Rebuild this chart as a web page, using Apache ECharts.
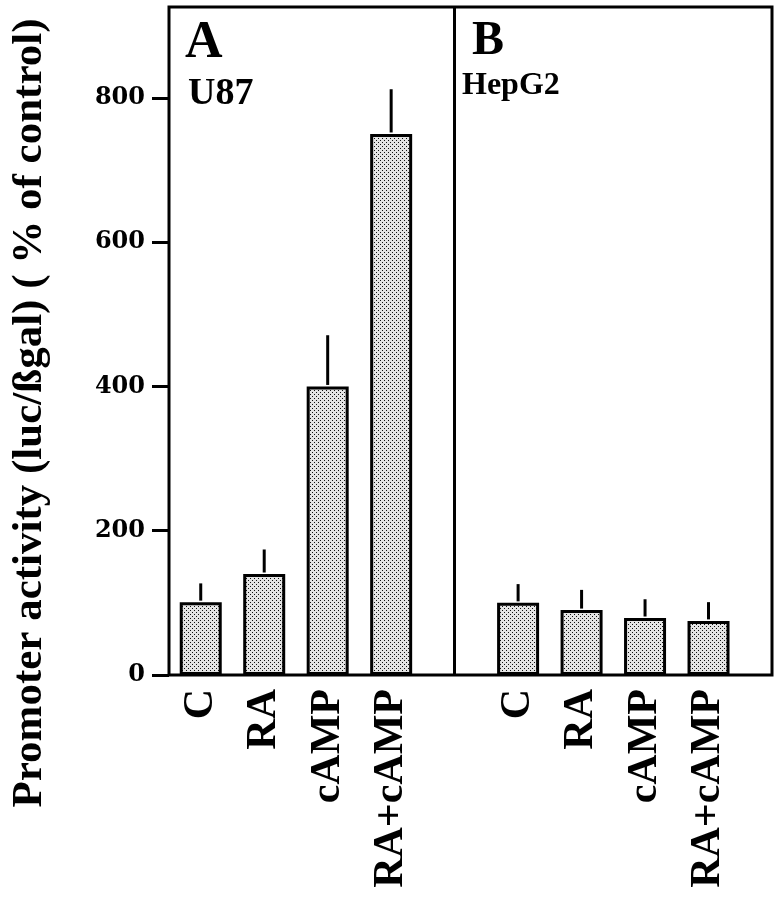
<!DOCTYPE html>
<html>
<head>
<meta charset="utf-8">
<script src="https://cdn.jsdelivr.net/npm/echarts@6/dist/echarts.min.js"></script>
<style>
html,body{margin:0;padding:0;background:#fff;}
#chart{width:780px;height:900px;}
</style>
</head>
<body>
<div id="chart"></div>
<script>
// ---- data ----
const categories = ['C', 'RA', 'cAMP', 'RA+cAMP'];
const panelLetters = ['A', 'B'];
const cellLines = ['U87', 'HepG2'];
const valuesA = [101, 140, 400, 750];
const errTopA = [127, 174, 471, 812];
const valuesB = [100, 90, 79, 75];
const errTopB = [126, 118, 105, 101];
const yTicks = [0, 200, 400, 600, 800];
const yTitle = 'Promoter activity (luc/ßgal) ( % of control)';

// ---- slots on a continuous x axis: panel A slots 0..3, gap, panel B slots 5..8 ----
const slotsA = categories.map((c, i) => i + 0.5);
const slotsB = categories.map((c, i) => i + 5.5);
const divider = 4.5;
const allSlots = slotsA.concat(slotsB);
const allNames = categories.concat(categories);

const barData = slotsA.map((x, i) => [x, valuesA[i]]).concat(slotsB.map((x, i) => [x, valuesB[i]]));
const errData = slotsA.map((x, i) => [x, valuesA[i], errTopA[i]]).concat(slotsB.map((x, i) => [x, valuesB[i], errTopB[i]]));

// stipple pattern
const tile = document.createElement('canvas');
tile.width = 4; tile.height = 4;
const tctx = tile.getContext('2d');
tctx.fillStyle = '#e4e4e4'; tctx.fillRect(0, 0, 4, 4);
tctx.fillStyle = '#111'; tctx.fillRect(0, 0, 1, 1); tctx.fillRect(2, 2, 1, 1);

const serif = '"Liberation Serif", "Times New Roman", serif';
const chart = echarts.init(document.getElementById('chart'), null, {renderer: 'canvas'});

chart.setOption({
  animation: false,
  backgroundColor: '#fff',
  grid: {left: 169, right: 8, top: 7, bottom: 225, show: true, borderColor: '#000', borderWidth: 3, backgroundColor: 'transparent'},
  xAxis: {
    type: 'value', min: 0, max: 9.5, interval: 0.5,
    axisLine: {show: false}, axisTick: {show: false}, splitLine: {show: false},
    axisLabel: {
      customValues: allSlots,
      rotate: 90, margin: 14, color: '#000',
      fontFamily: serif, fontWeight: 'bold', fontSize: 42,
      formatter: function (v) {
        for (let i = 0; i < allSlots.length; i++) if (Math.abs(allSlots[i] - v) < 1e-6) return allNames[i];
        return '';
      }
    }
  },
  yAxis: {
    type: 'value', min: 0, max: 926,
    axisLine: {show: false}, splitLine: {show: false},
    axisTick: {show: true, customValues: yTicks, length: 17, lineStyle: {color: '#000', width: 3}},
    axisLabel: {customValues: yTicks, margin: 24, color: '#000', fontFamily: '"DejaVu Serif", serif', fontWeight: 'bold', fontSize: 24}
  },
  graphic: [
    {type: 'text', x: 30, y: 413, rotation: Math.PI / 2, style: {text: yTitle, font: 'bold 43px ' + serif, fill: '#000', align: 'center', verticalAlign: 'middle', textAlign: 'center', textVerticalAlign: 'middle'}},
    {type: 'text', x: 185, y: 44, style: {text: panelLetters[0], font: 'bold 52px ' + serif, fill: '#000', align: 'left', verticalAlign: 'middle'}},
    {type: 'text', x: 188, y: 94, style: {text: cellLines[0], font: 'bold 38px ' + serif, fill: '#000', align: 'left', verticalAlign: 'middle'}},
    {type: 'text', x: 472, y: 42, style: {text: panelLetters[1], font: 'bold 48px ' + serif, fill: '#000', align: 'left', verticalAlign: 'middle'}},
    {type: 'text', x: 462, y: 86, style: {text: cellLines[1], font: 'bold 32px ' + serif, fill: '#000', align: 'left', verticalAlign: 'middle'}}
  ],
  series: [
    {
      type: 'bar', data: barData, barWidth: 42,
      itemStyle: {color: {image: tile, repeat: 'repeat'}, borderColor: '#000', borderWidth: 3},
      markLine: {silent: true, symbol: 'none', label: {show: false}, lineStyle: {color: '#000', width: 3, type: 'solid'}, data: [{xAxis: divider}]}
    },
    {
      type: 'custom', data: errData,
      renderItem: function (params, api) {
        const p1 = api.coord([api.value(0), api.value(1)]);
        const p2 = api.coord([api.value(0), api.value(2)]);
        return {type: 'line', shape: {x1: p1[0], y1: p1[1] - 1.5, x2: p2[0], y2: p2[1]}, style: {stroke: '#000', lineWidth: 3}};
      }
    }
  ]
});
</script>
</body>
</html>
